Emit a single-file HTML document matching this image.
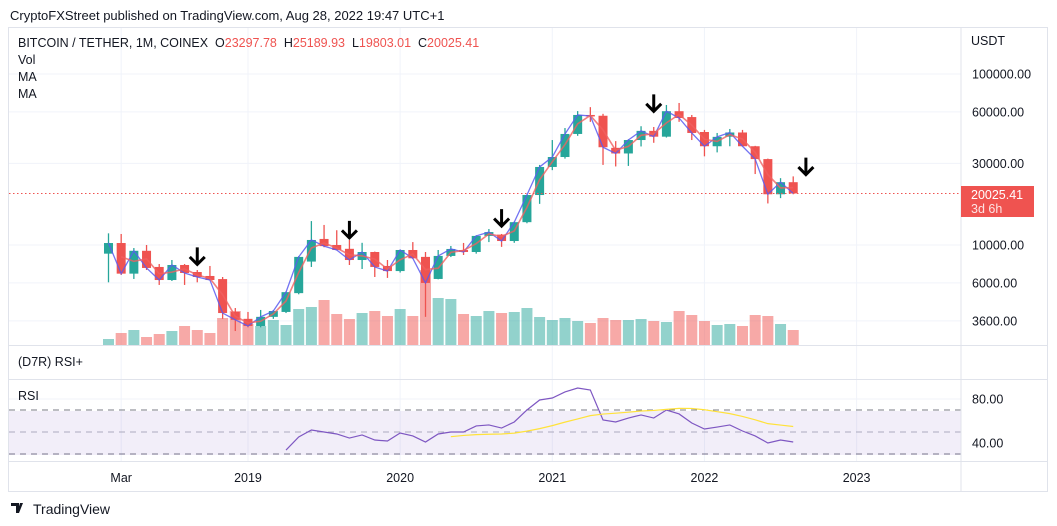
<!DOCTYPE html>
<html><head><meta charset="utf-8"><style>
body{margin:0;background:#fff;width:1057px;height:526px;overflow:hidden;font-family:"Liberation Sans",sans-serif;}
svg{position:absolute;left:0;top:0;}
text{font-family:"Liberation Sans",sans-serif;}
</style></head><body>
<svg id="chart" width="1057" height="526">
<text x="10" y="20" font-size="13" fill="#131722">CryptoFXStreet published on TradingView.com, Aug 28, 2022 19:47 UTC+1</text>
<rect x="8.5" y="27.5" width="1039" height="464" fill="none" stroke="#e0e3eb"/>
<g id="grid"></g>
<rect x="9" y="411" width="952" height="44" fill="#7e57c2" fill-opacity="0.1"/>
<g id="vol"></g>
<g id="candles"></g>
<g id="ma"></g>
<g id="rsi"></g>
<g id="arrows"></g>
<line x1="961" y1="28" x2="961" y2="491" stroke="#e0e3eb"/>
<line x1="9" y1="345.5" x2="1047" y2="345.5" stroke="#e0e3eb"/>
<line x1="9" y1="379.5" x2="1047" y2="379.5" stroke="#e0e3eb"/>
<line x1="9" y1="461.5" x2="1047" y2="461.5" stroke="#e0e3eb"/>
<g font-size="12.5" fill="#131722">
<text x="18" y="47" xml:space="preserve">BITCOIN / TETHER, 1M, COINEX  <tspan fill="#131722">O</tspan><tspan fill="#ef5350">23297.78</tspan>  <tspan>H</tspan><tspan fill="#ef5350">25189.93</tspan>  <tspan>L</tspan><tspan fill="#ef5350">19803.01</tspan>  <tspan>C</tspan><tspan fill="#ef5350">20025.41</tspan></text>
<text x="18" y="64">Vol</text>
<text x="18" y="81">MA</text>
<text x="18" y="98">MA</text>
<text x="18" y="366">(D7R) RSI+</text>
<text x="18" y="400">RSI</text>
<text x="971" y="45">USDT</text>
</g>
<g id="yaxis" font-size="12.5" fill="#131722"></g>
<g id="xaxis" font-size="12.5" fill="#131722"></g>
<line x1="9" y1="193.5" x2="961" y2="193.5" stroke="#ef5350" stroke-dasharray="1.5,2.5"/>
<rect x="961" y="186" width="73" height="31" fill="#ef5350"/>
<text x="971" y="199" font-size="12.5" fill="#fff">20025.41</text>
<text x="971" y="213" font-size="12.5" fill="#fde3e3">3d 6h</text>
<g>
<path d="M11 503h8v10h-3v-7h-5z M20 503l3 0 -4 10h-2z" fill="#131722"/>
<text x="33" y="514" font-size="14" fill="#131722">TradingView</text>
</g>
</svg>
<script>
const opens=[8900,10270,6800,9250,7440,6240,7640,6950,6590,6320,4060,3700,3360,3800,4060,5230,8000,10850,10000,9500,8170,9100,7540,7040,9350,8520,6330,8630,9350,9100,11300,11500,10550,13600,19600,28600,32700,44600,57600,57000,37000,34300,41100,46500,43000,60600,56000,45800,37800,43000,45500,37800,31800,19800,23297.78];
const highs=[11700,11600,9600,10000,7740,8170,7740,7140,7540,6500,4280,4060,4170,4170,5350,8600,13800,13100,12200,10700,10300,9150,8170,9400,10400,9100,9350,9870,10280,11400,12400,11600,13700,19700,29400,41100,48300,60700,64000,58500,40500,41500,49500,49000,65900,67700,57600,47100,45200,47700,47100,38000,32000,24600,25189.93];
const lows=[6050,6680,6330,7140,5840,6160,5840,6050,6200,3700,3140,3300,3300,3700,4000,5150,7440,9700,9300,7640,7240,6500,6420,6900,8300,3800,6300,8500,8740,8900,10400,9750,10300,13400,17400,27400,32000,43500,52500,29400,28800,29000,37700,39600,42500,52500,41100,33000,34800,37800,37700,26000,17500,18800,19803.01];
const closes=[10270,6800,9250,7340,6240,7640,6860,6500,6240,4000,3650,3360,3800,4110,5300,8520,10700,9850,9350,8170,9100,7440,7040,9350,8360,6000,8630,9480,9100,11300,11900,10550,13600,19600,28600,32700,44600,57600,56800,37300,34300,41100,46500,43000,60600,55300,45200,37800,42900,45500,37800,31800,19800,23300,20025.41];
const volumes=[6,12,15,8,11,14,19,15,12,27,34,21,19,25,20,36,38,45,31,26,32,34,29,36,29,75,47,46,31,29,34,32,33,37,28,25,27,24,22,27,25,25,26,24,23,34,30,24,20,21,19,30,29,21,15];
const rsiValues=[33.6,45.5,51.8,50,48.2,44.5,47.3,42.7,41.8,49.1,46.4,40.9,48.2,50,50,55.5,56.4,53.6,59.1,70,79.1,80.9,86.4,90,88.2,60.9,59.1,62.7,65.5,62.7,70,66.4,58.2,52.7,54.5,56.4,50.9,46.4,40,42.7,40.9];
const rsiStart=14;
const priceTicks=[100000,60000,30000,10000,6000,3600];
const rsiTicks=[80,40];
const timeLabels=["Mar","2019","2020","2021","2022","2023"];
const timeLabelIdx=[1,11,23,35,47,59];
const arrowIdx=[7,19,31,43,55];
const arrowPrice=[7700,11000,12900,60500,25800];

const NS="http://www.w3.org/2000/svg";
function el(tag,attrs,parent){const e=document.createElementNS(NS,tag);for(const k in attrs)e.setAttribute(k,attrs[k]);parent.appendChild(e);return e;}
const xOf=i=>108.5+i*12.68;
const yP=p=>245-171*Math.log10(p/10000);
const yV=v=>345-v;
const yR=r=>443-(r-40)*1.1;
const G="#26a69a",R="#ef5350";
const grid=document.getElementById('grid');
priceTicks.forEach(t=>{const l=el('line',{x1:9,x2:961,y1:yP(t),y2:yP(t),stroke:'#f0f3fa'},grid);

});
[80].forEach(t=>{const l=el('line',{x1:9,x2:961,y1:yR(t),y2:yR(t),stroke:'#f0f3fa'},grid);

});
timeLabelIdx.forEach(i=>{const l=el('line',{x1:xOf(i),x2:xOf(i),y1:28,y2:461,stroke:'#f0f3fa'},grid);

});
[70,50,30].forEach(t=>{const l=el('line',{x1:9,x2:961,y1:yR(t),y2:yR(t),stroke:t==50?'#b2b5be':'#787b86','stroke-dasharray':'6,5'},grid);

});
const ya=document.getElementById('yaxis');
priceTicks.forEach(t=>{const e=el('text',{x:972,y:yP(t)+4.5},ya);e.textContent=t.toFixed(2);

});
rsiTicks.forEach(t=>{const e=el('text',{x:972,y:yR(t)+4.5},ya);e.textContent=t.toFixed(2);

});
const xa=document.getElementById('xaxis');
timeLabels.forEach((s,k)=>{const e=el('text',{x:xOf(timeLabelIdx[k]),y:482,'text-anchor':'middle'},xa);e.textContent=s;

});
const vg=document.getElementById('vol'),cg=document.getElementById('candles');
closes.forEach((c,i)=>{const up=c>=opens[i];const col=up?G:R;const x=xOf(i);
const v=el('rect',{x:x-5.5,y:yV(volumes[i]),width:11,height:volumes[i],fill:col,'fill-opacity':0.5},vg);


const w=el('line',{x1:x,x2:x,y1:yP(highs[i]),y2:yP(lows[i]),stroke:col,'stroke-width':1.3},cg);


const t=Math.min(yP(opens[i]),yP(c)),b=Math.max(yP(opens[i]),yP(c));
const r=el('rect',{x:x-4.5,y:t,width:9,height:Math.max(1.5,b-t),fill:col},cg);

});
const mg=document.getElementById('ma');
const ma1=closes.map((c,i)=>i<1?null:(c+closes[i-1])/2);
let p1='',p2='';
closes.forEach((c,i)=>{p1+=(i?'L':'M')+xOf(i)+','+yP(c);});
ma1.forEach((m,i)=>{if(m!=null)p2+=(p2?'L':'M')+xOf(i)+','+yP(m);});
const l1=el('path',{d:p1,fill:'none',stroke:'#5b5bf0','stroke-width':1.3,'stroke-opacity':0.85},mg);


const l2=el('path',{d:p2,fill:'none',stroke:'#f06060','stroke-width':1.6,'stroke-opacity':0.8},mg);


const rg=document.getElementById('rsi');
let pr='';rsiValues.forEach((r,k)=>{pr+=(k?'L':'M')+xOf(rsiStart+k)+','+yR(r);});
const rl=el('path',{d:pr,fill:'none',stroke:'#7e57c2','stroke-width':1.2},rg);


let py='';rsiValues.forEach((r,k)=>{if(k>=13){const s=rsiValues.slice(k-13,k+1).reduce((a,b)=>a+b,0)/14;py+=(py?'L':'M')+xOf(rsiStart+k)+','+yR(s);}});
const yl=el('path',{d:py,fill:'none',stroke:'#ffe23a','stroke-width':1.2},rg);


const ag=document.getElementById('arrows');
arrowIdx.forEach((i,k)=>{const x=xOf(i),y=yP(arrowPrice[k]);
const a=el('path',{d:`M${x},${y-17}V${y}M${x-7.5},${y-7.5}L${x},${y}L${x+7.5},${y-7.5}`,fill:'none',stroke:'#000','stroke-width':3},ag);

});
</script>
</body></html>
